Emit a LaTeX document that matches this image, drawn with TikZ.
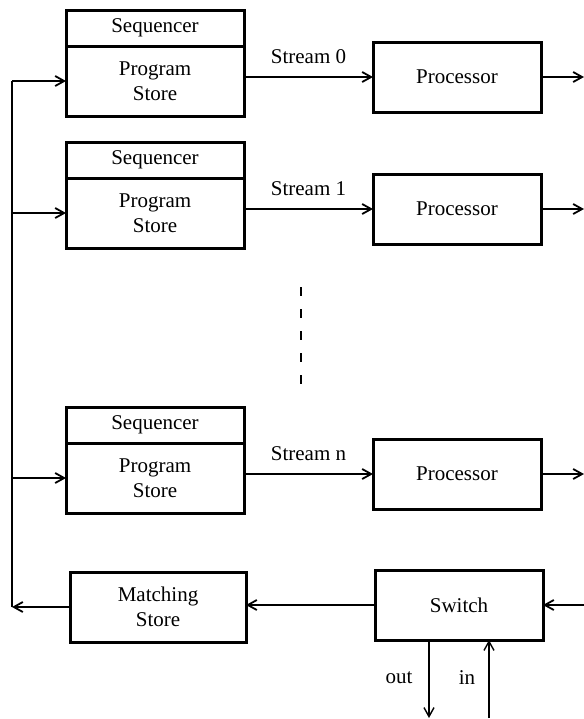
\documentclass[tikz,border=0pt]{standalone}
\usepackage{fontspec}
\setmainfont{Liberation Serif}
\usetikzlibrary{arrows.meta}

\tikzset{
  box/.style={draw, line width=1.5pt, align=center, inner sep=0pt, outer sep=0pt,
              font=\fontsize{10.5}{12.5}\selectfont},
  seqbox/.style={box, minimum width=89pt, minimum height=18pt},
  progbox/.style={box, minimum width=89pt, minimum height=35pt},
  procbox/.style={box, minimum width=84pt, minimum height=35pt},
  wire/.style={line width=0.9pt, -{Straight Barb[length=4.5pt,width=5pt]}},
  lbl/.style={font=\fontsize{10.5}{12.5}\selectfont},
}

\begin{document}
\begin{tikzpicture}[x=0.5pt, y=-0.5pt]
      \useasboundingbox (0,0) rectangle (584,719);
      \coordinate (right) at (584,0);
      \coordinate (bus) at (12,607);

      \foreach \i/\top/\s in {0/10/0, 1/142/1, 2/407/n}{
        \node[seqbox, anchor=north] (seq\i) at (155,\top) {Sequencer};
        \node[progbox, anchor=north] (prog\i) at (seq\i.south) {Program\\Store};
        \node[procbox] (proc\i) at (457,\top+67) {Processor};
        \draw[wire] (prog\i.east |- proc\i.west) -- node[lbl, above=3pt] {Stream \s} (proc\i.west);
        \draw[wire] (proc\i.east) -- (proc\i.east -| right);
        \draw[wire] (bus |- prog\i.west) -- (prog\i.west);
      }

      \draw[line width=0.6pt, dash pattern=on 4.5pt off 6.5pt] (301,287) -- (301,386);

      \node[progbox, minimum width=88pt] (match) at (158,607) {Matching\\Store};
      \node[procbox] (switch) at (459,605) {Switch};

      \draw[wire] (switch.west) -- (switch.west -| match.east);
      \draw[wire] (match.west) -- (bus);
      \draw[line width=0.9pt] (bus) -- (bus |- prog0.west);
      \draw[wire] (switch.east -| right) -- (switch.east);

      \coordinate (outend) at (429,718);
      \coordinate (inend) at (489,718);
      \draw[wire, line width=0.7pt] (switch.south -| outend) -- (outend);
      \draw[wire, line width=0.7pt] (inend) -- (switch.south -| inend);
      \node[lbl] (outlbl) at (399,678) {out};
      \node[lbl] (inlbl) at (467,678) {in};
\end{tikzpicture}
\end{document}
